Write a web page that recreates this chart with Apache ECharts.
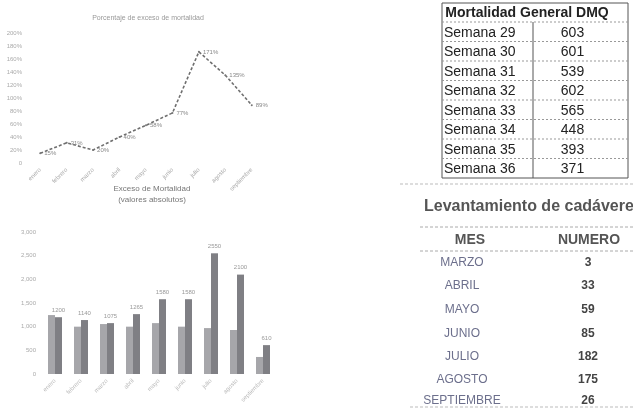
<!DOCTYPE html>
<html>
<head>
<meta charset="utf-8">
<script src="https://cdn.jsdelivr.net/npm/echarts@6/dist/echarts.min.js"></script>
<style>
html, body { margin: 0; padding: 0; background: #fff; }
#main { width: 633px; height: 408px; }
</style>
</head>
<body>
<div id="main"></div>
<script>
// meses de ambos gráficos
const meses = ['enero', 'febrero', 'marzo', 'abril', 'mayo', 'junio', 'julio', 'agosto', 'septiembre'];
// porcentaje de exceso de mortalidad
const porcentajeExceso = [15, 31, 20, 40, 58, 77, 171, 135, 89];
const porcentajeTicks = [0, 20, 40, 60, 80, 100, 120, 140, 160, 180, 200];
// exceso de mortalidad (valores absolutos)
const muertesEsperadas = [1245, 1000, 1055, 1000, 1075, 1000, 970, 930, 360];
const muertesObservadas = [1200, 1140, 1075, 1265, 1580, 1580, 2550, 2100, 610];
const absolutoTicks = [0, 500, 1000, 1500, 2000, 2500, 3000];
// tabla mortalidad general DMQ
const semanas = ['Semana 29', 'Semana 30', 'Semana 31', 'Semana 32', 'Semana 33', 'Semana 34', 'Semana 35', 'Semana 36'];
const mortalidadSemana = [603, 601, 539, 602, 565, 448, 393, 371];
// tabla levantamiento de cadáveres
const mesesLevantamiento = ['MARZO', 'ABRIL', 'MAYO', 'JUNIO', 'JULIO', 'AGOSTO', 'SEPTIEMBRE'];
const levantamientos = [3, 33, 59, 85, 182, 175, 26];

const chart = echarts.init(document.getElementById('main'));

// elementos de las tablas
const graphics = [];
const t1 = { left: 442, right: 628, mid: 533, top: 3, headH: 19, rowH: 19.5 };
const t1Bottom = t1.top + t1.headH + t1.rowH * semanas.length;
graphics.push({
  type: 'rect', shape: { x: t1.left, y: t1.top, width: t1.right - t1.left, height: t1Bottom - t1.top },
  style: { fill: null, stroke: '#555', lineWidth: 1 }
});
graphics.push({
  type: 'line', shape: { x1: t1.mid, y1: t1.top + t1.headH, x2: t1.mid, y2: t1Bottom },
  style: { stroke: '#555', lineWidth: 1 }
});
graphics.push({
  type: 'text', x: (t1.left + t1.right) / 2 - 8, y: t1.top + t1.headH / 2 + 1,
  style: { text: 'Mortalidad General DMQ', font: 'bold 14px "Liberation Sans"', fill: '#222', align: 'center', verticalAlign: 'middle' }
});
semanas.forEach((s, i) => {
  const y0 = t1.top + t1.headH + t1.rowH * i;
  graphics.push({
    type: 'line', shape: { x1: t1.left, y1: y0, x2: t1.right, y2: y0 },
    style: { stroke: '#999', lineWidth: 1, lineDash: [2, 2] }
  });
  graphics.push({
    type: 'text', x: t1.left + 2, y: y0 + t1.rowH / 2 + 1,
    style: { text: s, font: '14px "Liberation Sans"', fill: '#222', verticalAlign: 'middle' }
  });
  graphics.push({
    type: 'text', x: (t1.mid + t1.right) / 2 - 8, y: y0 + t1.rowH / 2 + 1,
    style: { text: String(mortalidadSemana[i]), font: '14px "Liberation Sans"', fill: '#222', align: 'center', verticalAlign: 'middle' }
  });
});
graphics.push({
  type: 'line', shape: { x1: 400, y1: 184, x2: 633, y2: 184 },
  style: { stroke: '#bbb', lineWidth: 1, lineDash: [3, 2] }
});
graphics.push({
  type: 'text', x: 424, y: 207,
  style: { text: 'Levantamiento de cadáveres', font: 'bold 16px "Liberation Sans"', fill: '#555', verticalAlign: 'middle' }
});
graphics.push({
  type: 'line', shape: { x1: 420, y1: 227, x2: 633, y2: 227 },
  style: { stroke: '#aaa', lineWidth: 1, lineDash: [3, 2] }
});
graphics.push({
  type: 'text', x: 470, y: 240,
  style: { text: 'MES', font: 'bold 14px "Liberation Sans"', fill: '#555', align: 'center', verticalAlign: 'middle' }
});
graphics.push({
  type: 'text', x: 589, y: 240,
  style: { text: 'NUMERO', font: 'bold 14px "Liberation Sans"', fill: '#555', align: 'center', verticalAlign: 'middle' }
});
graphics.push({
  type: 'line', shape: { x1: 420, y1: 251, x2: 633, y2: 251 },
  style: { stroke: '#aaa', lineWidth: 1, lineDash: [3, 2] }
});
const filasY = [263, 286, 310, 334, 357, 380, 401];
mesesLevantamiento.forEach((m, i) => {
  graphics.push({
    type: 'text', x: 462, y: filasY[i],
    style: { text: m, font: '12px "Liberation Sans"', fill: '#6c6f8c', align: 'center', verticalAlign: 'middle' }
  });
  graphics.push({
    type: 'text', x: 588, y: filasY[i],
    style: { text: String(levantamientos[i]), font: 'bold 12px "Liberation Sans"', fill: '#444', align: 'center', verticalAlign: 'middle' }
  });
});
graphics.push({
  type: 'line', shape: { x1: 410, y1: 407, x2: 633, y2: 407 },
  style: { stroke: '#bbb', lineWidth: 1, lineDash: [3, 2] }
});

const option = {
  animation: false,
  backgroundColor: '#fff',
  textStyle: { fontFamily: 'Liberation Sans' },
  title: [
    {
      text: 'Porcentaje de exceso de mortalidad',
      left: 143, top: 10, textAlign: 'center',
      textStyle: { fontSize: 7, fontWeight: 'normal', color: '#999' }
    },
    {
      text: 'Exceso de Mortalidad\n(valores absolutos)',
      left: 147, top: 178, textAlign: 'center',
      textStyle: { fontSize: 8, fontWeight: 'normal', color: '#777', lineHeight: 11 }
    }
  ],
  grid: [
    { left: 27, width: 238, top: 33, height: 130 },
    { left: 42, width: 234, top: 232, height: 142 }
  ],
  xAxis: [
    {
      gridIndex: 0, type: 'category', data: meses,
      axisLine: { show: false }, axisTick: { show: false },
      axisLabel: { rotate: 45, fontSize: 6, color: '#aaa', margin: 6 }
    },
    {
      gridIndex: 1, type: 'category', data: meses,
      axisLine: { show: false }, axisTick: { show: false },
      axisLabel: { rotate: 45, fontSize: 6, color: '#bbb', margin: 6 }
    }
  ],
  yAxis: [
    {
      gridIndex: 0, type: 'value',
      min: porcentajeTicks[0], max: porcentajeTicks[porcentajeTicks.length - 1], interval: 20,
      splitLine: { show: false }, axisLine: { show: false }, axisTick: { show: false },
      axisLabel: { fontSize: 6, color: '#aaa', margin: 5, formatter: v => v === 0 ? '0' : v + '%' }
    },
    {
      gridIndex: 1, type: 'value',
      min: absolutoTicks[0], max: absolutoTicks[absolutoTicks.length - 1], interval: 500,
      splitLine: { show: false }, axisLine: { show: false }, axisTick: { show: false },
      axisLabel: { fontSize: 6, color: '#aaa', margin: 6 }
    }
  ],
  series: [
    {
      type: 'line', xAxisIndex: 0, yAxisIndex: 0,
      data: porcentajeExceso,
      symbol: 'circle', symbolSize: 2, showSymbol: true,
      itemStyle: { color: '#777' },
      lineStyle: { color: '#6f6f6f', width: 1.6, type: [3, 2] },
      label: { show: true, position: 'right', distance: 3, fontSize: 6, color: '#888', formatter: p => p.value + '%' }
    },
    {
      type: 'bar', xAxisIndex: 1, yAxisIndex: 1,
      data: muertesEsperadas, barWidth: 7, barGap: '0%',
      itemStyle: { color: '#a6a6aa' }
    },
    {
      type: 'bar', xAxisIndex: 1, yAxisIndex: 1,
      data: muertesObservadas, barWidth: 7, barGap: '0%',
      itemStyle: { color: '#7f7f84' },
      label: { show: true, position: 'top', fontSize: 6, color: '#999', distance: 4 }
    }
  ],
  graphic: graphics
};

chart.setOption(option);
</script>
</body>
</html>
